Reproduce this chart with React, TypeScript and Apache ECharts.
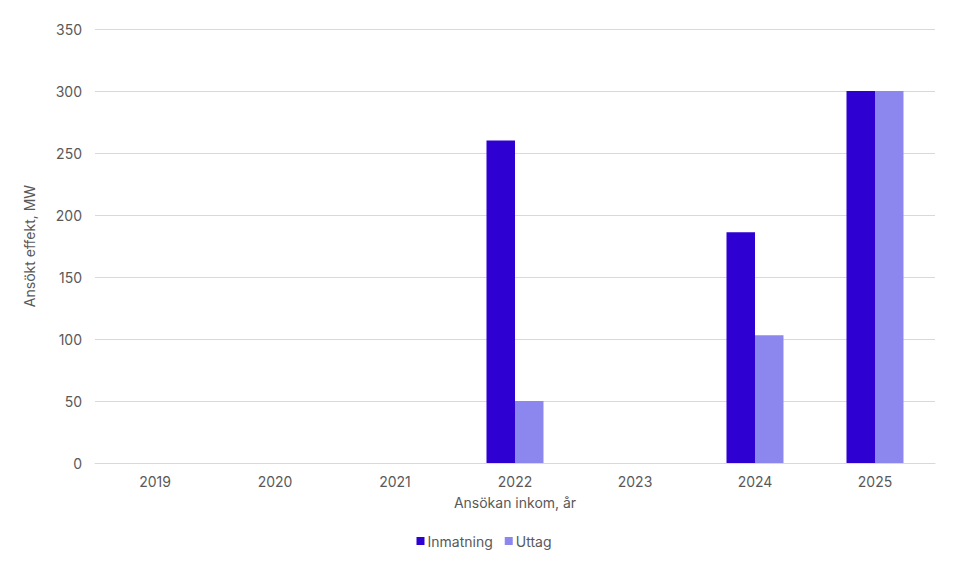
import React, { useEffect, useRef } from "react";
import * as echarts from "echarts";

const categories = ["2019", "2020", "2021", "2022", "2023", "2024", "2025"];
const inmatning = [0, 0, 0, 260, 0, 186, 300];
const uttag = [0, 0, 0, 50, 0, 103, 300];
const seriesNames = ["Inmatning", "Uttag"];
const colors = ["#2E00D1", "#8B87EF"];

const FONT = "Inter, 'Noto Sans', sans-serif";
const TEXT = "#595959";

export default function App() {
  const ref = useRef<HTMLDivElement>(null);
  useEffect(() => {
    if (!ref.current) return;
    const chart = echarts.init(ref.current, null, { renderer: "svg" });
    chart.setOption({
      animation: false,
      textStyle: { fontFamily: FONT },
      grid: { left: 95, right: 33, top: 29, bottom: 112, containLabel: false },
      legend: {
        data: seriesNames,
        bottom: 22,
        left: "center",
        icon: "rect",
        itemWidth: 8,
        itemHeight: 8,
        itemGap: 12,
        textStyle: { color: TEXT, fontSize: 14, fontFamily: FONT, padding: [0, 0, 0, -2] },
      },
      xAxis: {
        type: "category",
        data: categories,
        name: "Ansökan inkom, år",
        nameLocation: "middle",
        nameGap: 32,
        nameTextStyle: { color: TEXT, fontSize: 14, fontFamily: FONT },
        axisLine: { show: true, lineStyle: { color: "#D9D9D9" } },
        axisTick: { show: false },
        axisLabel: { color: TEXT, fontSize: 14, margin: 11, fontFamily: FONT },
      },
      yAxis: {
        type: "value",
        min: 0,
        max: 350,
        interval: 50,
        name: "Ansökt effekt, MW",
        nameLocation: "middle",
        nameGap: 59,
        nameTextStyle: { color: TEXT, fontSize: 14, fontFamily: FONT },
        axisLine: { show: false },
        axisTick: { show: false },
        axisLabel: { color: TEXT, fontSize: 14, margin: 13, fontFamily: FONT },
        splitLine: { lineStyle: { color: "#D9D9D9", width: 1 } },
      },
      series: [
        {
          name: seriesNames[0],
          type: "bar",
          data: inmatning,
          itemStyle: { color: colors[0] },
          barGap: "0%",
          barCategoryGap: "52.5%",
        },
        {
          name: seriesNames[1],
          type: "bar",
          data: uttag,
          itemStyle: { color: colors[1] },
          barGap: "0%",
          barCategoryGap: "52.5%",
        },
      ],
    });
    return () => chart.dispose();
  }, []);
  return <div ref={ref} style={{ width: 968, height: 575, position: "absolute", left: 0, top: 0 }} />;
}
